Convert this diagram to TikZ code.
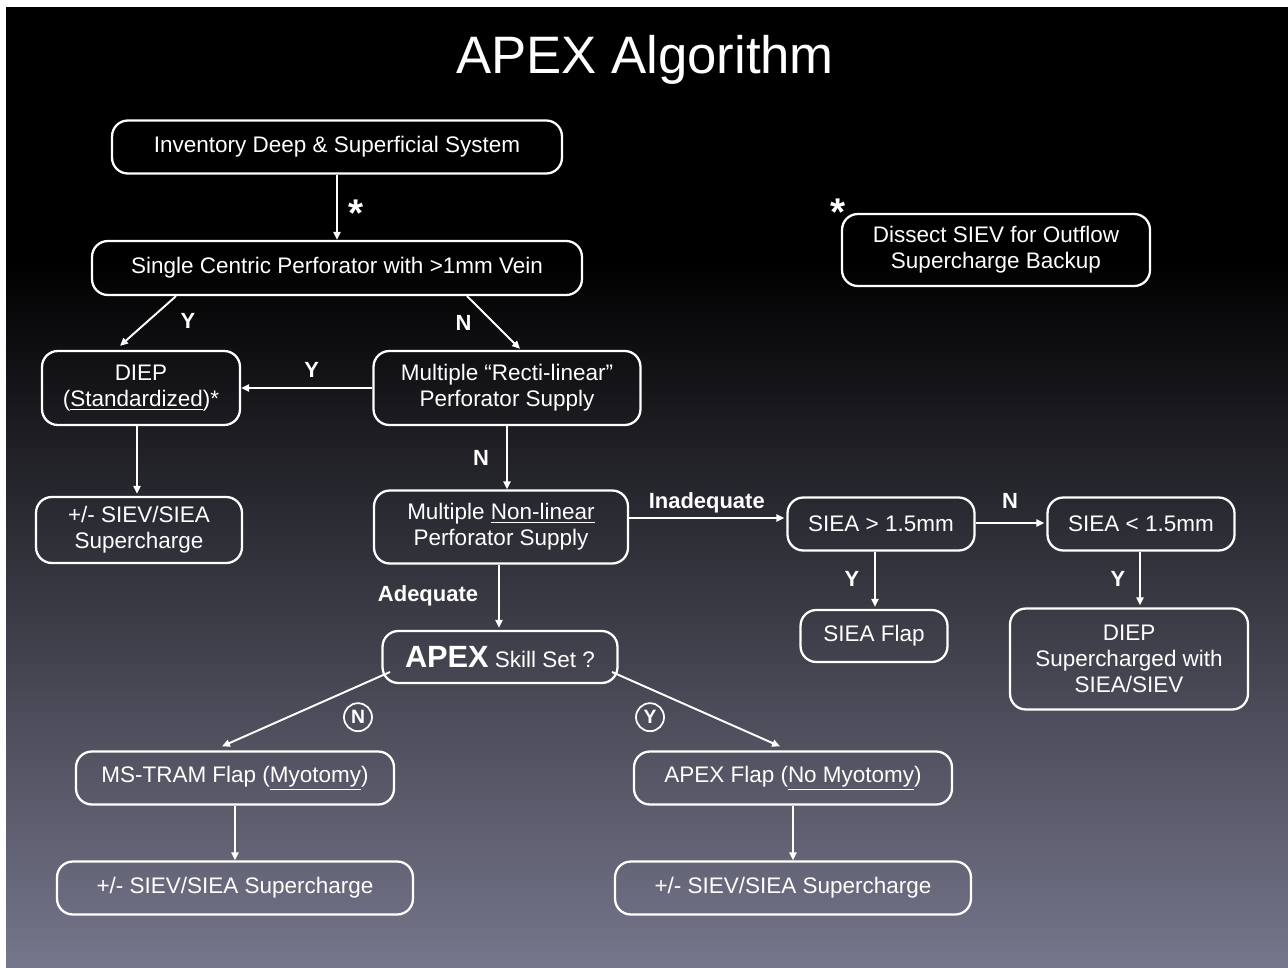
\documentclass[tikz,border=0pt]{standalone}
\usepackage{fontspec}
\setmainfont{Liberation Sans}
\usepackage{tikz}
\usetikzlibrary{arrows.meta, positioning, calc}

\definecolor{slidemid}{RGB}{50, 50, 78}
\definecolor{slidebot}{RGB}{118, 118, 140}

\tikzset{
  box/.style={draw=white, line width=1.3pt, rounded corners=9pt, align=center,
    text=white, inner sep=0pt, font=\fontsize{12.8}{14.8}\selectfont},
  flow/.style={draw=white, line width=1.1pt, -{Triangle[length=4.5pt, width=4pt]}},
  lbl/.style={text=white, font=\fontsize{12.5}{14}\selectfont\bfseries},
  ring/.style={draw=white, circle, line width=1pt, minimum size=0.56cm, inner sep=0pt,
    text=white, font=\fontsize{11}{12}\selectfont\bfseries},
  star/.style={text=white, font=\fontsize{22}{22}\selectfont\bfseries},
}

\begin{document}
\begin{tikzpicture}[x=0.02cm, y=-0.02cm]
  % slide background
  \fill[white] (0, 0) rectangle (1288, 967);
  \useasboundingbox (0, 0) rectangle (1288, 967);
  \fill[black] (6, 7) rectangle (1288, 261);
  \shade[top color=black, middle color=slidemid, bottom color=slidebot]
    (6, 260) rectangle (1288, 967);

  \node[text=white, font=\fontsize{30}{34}\selectfont] (title) at (645, 60) {APEX Algorithm};

  % top of the tree
  \node[box, minimum width=9cm, minimum height=1.06cm] (inv) at (337, 147)
    {Inventory Deep \& Superficial System};
  \node[box, minimum width=9.8cm, minimum height=1.08cm] (single) at (337, 268)
    {Single Centric Perforator with >1mm Vein};
  \node[box, minimum width=6.16cm, minimum height=1.44cm] (dissect) at (996, 250)
    {Dissect SIEV for Outflow\\Supercharge Backup};
  \node[star] (dstar) at (838, 212) {*};

  % second row
  \node[box, minimum width=3.96cm, minimum height=1.48cm] (diep) at (141, 388)
    {DIEP\\(\underline{Standardized})*};
  \node[box, minimum width=5.34cm, minimum height=1.48cm] (recti) at (507, 388)
    {Multiple “Recti-linear”\\Perforator Supply};

  % third row
  \node[box, minimum width=4.12cm, minimum height=1.32cm] (dsup) at (139, 530)
    {+/- SIEV/SIEA\\Supercharge};
  \node[box, minimum width=5.08cm, minimum height=1.46cm] (nonlin) at (501, 527)
    {Multiple \underline{Non-linear}\\Perforator Supply};
  \node[box, minimum width=3.74cm, minimum height=1.06cm] (sieagt) at (881, 524)
    {SIEA > 1.5mm};
  \node[box, minimum width=3.74cm, minimum height=1.06cm] (sielt) at (1141, 524)
    {SIEA < 1.5mm};

  % SIEA outcomes
  \node[box, minimum width=2.94cm, minimum height=1.04cm] (sieaflap) at (874, 636)
    {SIEA Flap};
  \node[box, minimum width=4.76cm, minimum height=2.02cm] (diepsup) at (1129, 659)
    {DIEP\\Supercharged with\\SIEA/SIEV};

  % skill set branch
  \node[box, minimum width=4.7cm, minimum height=1.04cm] (apex) at (500, 657)
    {{\fontsize{17.5}{18}\selectfont\bfseries APEX} Skill Set ?};
  \node[box, minimum width=6.36cm, minimum height=1.06cm] (mstram) at (235, 778)
    {MS-TRAM Flap (\underline{Myotomy})};
  \node[box, minimum width=6.36cm, minimum height=1.06cm] (apexflap) at (793, 778)
    {APEX Flap (\underline{No Myotomy})};
  \node[box, minimum width=7.12cm, minimum height=1.06cm] (msup) at (235, 888)
    {+/- SIEV/SIEA Supercharge};
  \node[box, minimum width=7.12cm, minimum height=1.06cm] (asup) at (793, 888)
    {+/- SIEV/SIEA Supercharge};

  % connectors
  \draw[flow] (inv) -- (single) node[star, midway, xshift=0.38cm, yshift=-0.12cm] {*};
  \draw[flow] ($(single.south)+(-161, 0)$) -- ($(diep.north)+(-21, -4)$)
    node[lbl, midway, xshift=0.8cm] {Y};
  \draw[flow] ($(single.south)+(130, 0)$) -- ($(recti.north)+(13, -1)$)
    node[lbl, midway, xshift=-0.6cm] {N};
  \draw[flow] (recti) -- (diep) node[lbl, midway, xshift=0.1cm, yshift=0.36cm] {Y};
  \draw[flow] (recti) -- (nonlin.north -| recti) node[lbl, midway, xshift=-0.52cm] {N};
  \draw[flow] ($(diep.south)+(-4, 0)$) -- ($(dsup.north)+(-2, -2)$);
  \draw[flow] ($(nonlin.east)+(0, -9)$) -- ($(sieagt.west)+(-2, -6)$)
    node[lbl, midway, yshift=0.3cm] {Inadequate};
  \draw[flow] ($(sieagt.east)+(0, -1)$) -- ($(sielt.west)+(-2, -1)$)
    node[lbl, midway, yshift=0.44cm] {N};
  \draw[flow] ($(sieagt.south)+(-6, 0)$) -- ($(sieaflap.north)+(1, -2)$)
    node[lbl, midway, xshift=-0.46cm] {Y};
  \draw[flow] ($(sielt.south)+(-1, 0)$) -- ($(diepsup.north)+(11, -2)$)
    node[lbl, midway, xshift=-0.44cm] {Y};
  \draw[flow] ($(nonlin.south)+(-2, 0)$) -- ($(apex.north)+(-1, -2)$)
    node[lbl, midway, xshift=-1.42cm] {Adequate};
  \draw[flow] ($(apex)+(-110, 15)$) -- ($(mstram.north)+(-13, -4)$)
    node[ring, midway, xshift=1.04cm, yshift=-0.16cm] {N};
  \draw[flow] ($(apex)+(112, 15)$) -- ($(apexflap.north)+(-13, -4)$)
    node[ring, midway, xshift=-0.92cm, yshift=-0.16cm] {Y};
  \draw[flow] (mstram) -- (msup);
  \draw[flow] (apexflap) -- (asup);
\end{tikzpicture}
\end{document}
